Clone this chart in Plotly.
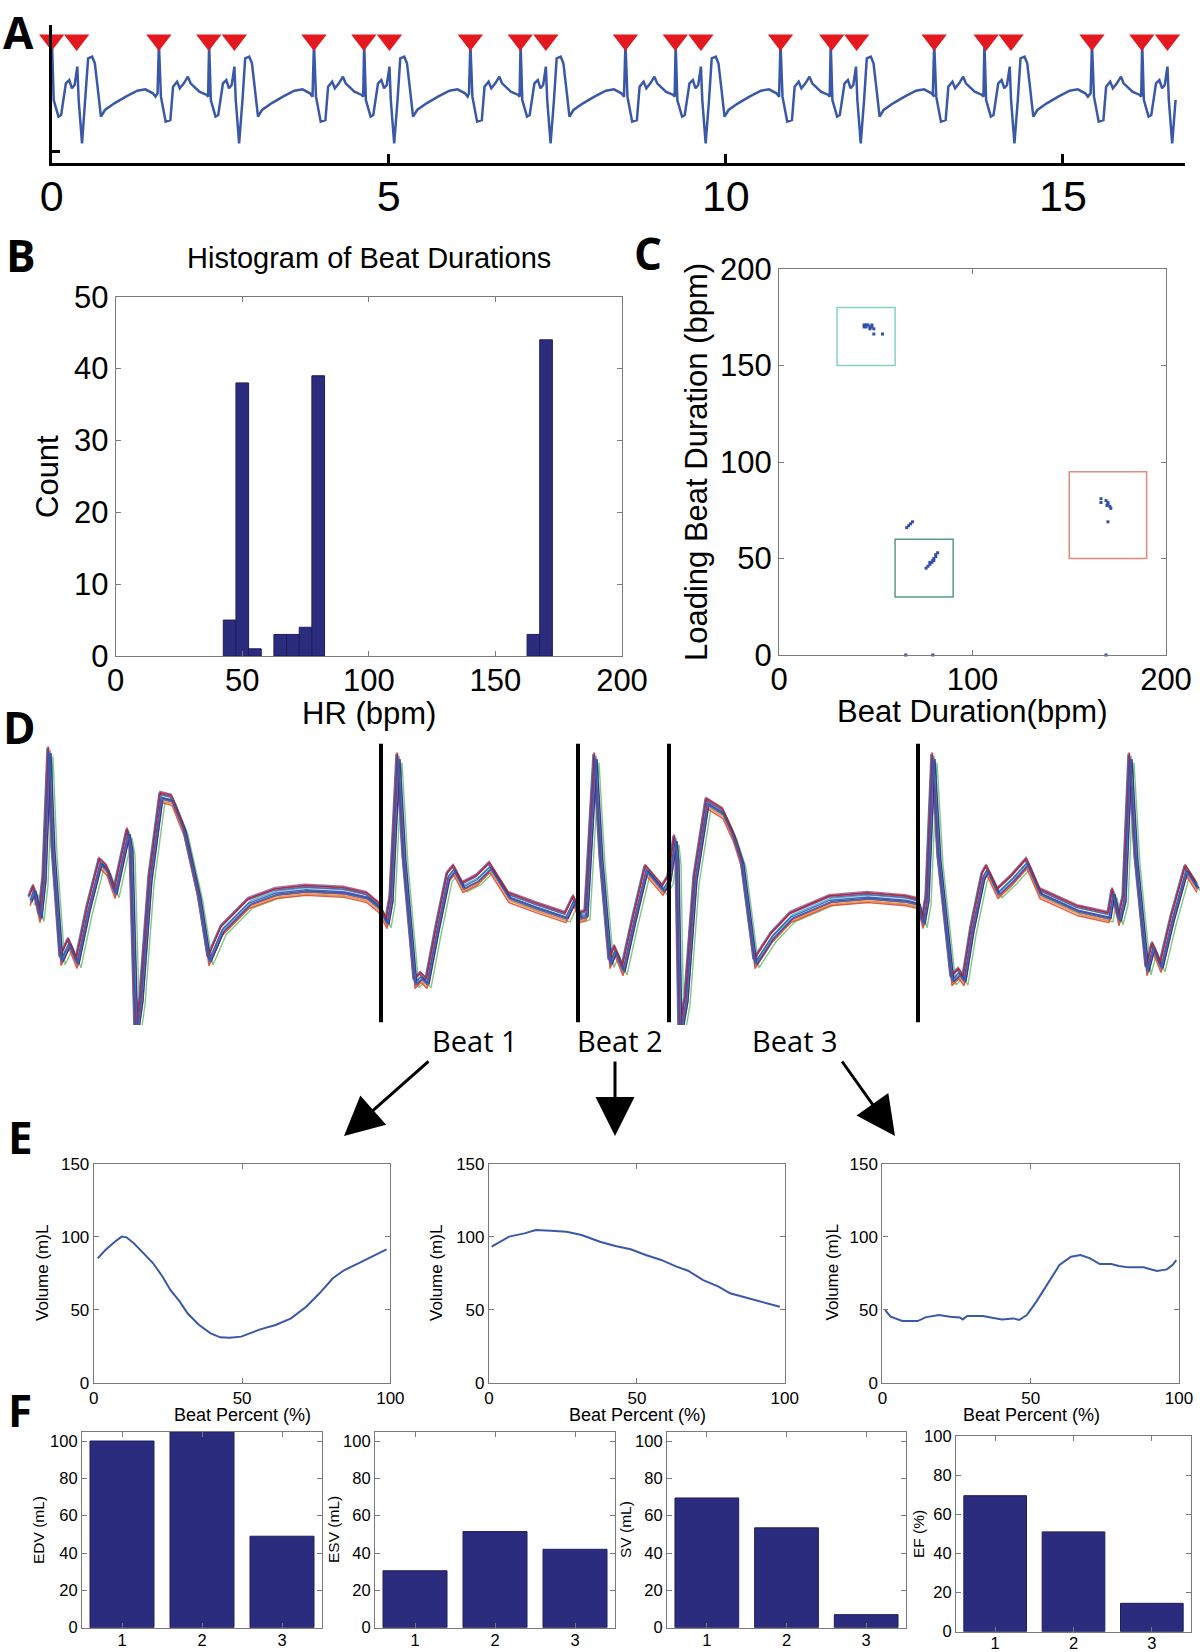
import plotly.graph_objects as go

W, H = 1200, 1652
HELV = "Liberation Sans, Arial, sans-serif"
MYRIAD = "Open Sans, Noto Sans, sans-serif"
GRAY = "#7a7a7a"
NAVY = "#2b2c7e"
ECG_BLUE = "#3a58a8"

# ---------------- A: ECG strip ----------------
# one 3-beat cycle read off the strip (time from first R peak in s, amplitude a.u.)
cycle_t = [-0.02, 0.0, 0.03, 0.10, 0.17, 0.21, 0.27, 0.31, 0.37, 0.43, 0.47, 0.60, 0.71, 0.73,
           0.745, 0.77, 0.84, 0.88, 0.95, 1.00, 1.04, 1.08, 1.12, 1.14, 1.19, 1.24, 1.28, 1.34,
           1.38, 1.42, 1.47, 1.53, 1.67, 1.84, 2.01, 2.13, 2.24, 2.28]
cycle_v = [-0.1, 1.4, -0.2, -0.95, -0.9, 0.1, 0.25, 0.05, 0.2, 0.4, 0.2, -0.05, -0.15, -0.2,
           1.4, -0.3, -0.8, -0.75, 0.2, 0.3, 0.05, 0.15, 0.7, -0.3, -1.6, -0.3, 0.95, 1.0,
           0.8, 0.1, -0.8, -0.6, -0.4, -0.2, -0.02, 0.02, -0.1, -0.2]
cycle_starts = [-0.74, 1.59, 3.89, 6.21, 8.51, 10.81, 13.09, 15.43]
strip_end = 16.68
peak_times = [0.0, 0.37, 1.59, 2.33, 2.71, 3.89, 4.63, 5.01, 6.21, 6.95, 7.33, 8.51,
              9.25, 9.63, 10.81, 11.57, 11.94, 13.09, 13.86, 14.23, 15.43, 16.17, 16.55]
marker_level = 1.5

# ---------------- B: histogram ----------------
hr_bins = [45, 50, 55, 65, 70, 75, 80, 165, 170]
hr_counts = [5, 38, 1, 3, 3, 4, 39, 3, 44]

# ---------------- C: beat vs loading beat ----------------
beat_dur = [44, 45, 46, 47, 48, 48, 49, 47, 45, 49, 53.5, 44,
            66, 67, 68, 69,
            76, 77, 78, 79, 79.5, 80, 81, 81, 82, 78, 80,
            166.4, 166.4, 169, 170, 171, 171.5, 170, 169.5, 170,
            65.5, 79.5, 169]
loading_dur = [171, 170, 171, 170, 171, 170, 169, 169, 171, 166.3, 166.3, 170,
               66, 67, 68, 69,
               45, 46, 47, 48, 49, 50, 51, 52, 53, 48, 49,
               81, 79, 80, 79, 77, 76, 78, 77.5, 69,
               0, 0, 0]
box_x0 = [30, 60, 150]
box_x1 = [60, 90, 190]
box_y0 = [150, 30, 50]
box_y1 = [180, 60, 95]
box_colors = ["#86d2cb", "#5e9c80", "#e08b7b"]

# ---------------- D: overlaid beats ----------------
d_x = [30, 34, 40, 44, 49, 53, 61, 69, 77, 88, 100, 107, 115, 122, 128, 131, 136, 141, 150, 161,
       172, 184, 193, 199, 209, 222, 249, 276, 306, 344, 367, 379, 387, 391, 398, 404, 415, 421, 427, 437,
       448, 454, 463, 477, 490, 509, 536, 566, 574, 580, 586, 595, 601, 610, 615, 623, 634, 646, 663, 669,
       675, 677, 680, 686, 695, 707, 723, 733, 742, 755, 772, 791, 830, 868, 906, 918, 923, 927, 933, 939,
       952, 959, 964, 972, 983, 987, 998, 1012, 1027, 1040, 1078, 1109, 1113, 1119, 1124, 1130, 1136, 1147, 1153, 1161,
       1172, 1186, 1197]
d_y = [-0.13, 0.13, -0.55, 0.38, 3.58, 1.13, -1.63, -1.2, -1.7, -0.38, 0.8, 0.63, 0.05, 0.88, 1.55, 1.13, -3.5, -2.63, 0.38, 2.45,
       2.38, 1.63, 0.63, -0.05, -1.63, -0.88, -0.2, 0.05, 0.13, 0.08, -0.05, -0.3, -0.7, -0.13, 3.43, 0.88, -2.2, -2.05, -2.2, -0.88,
       0.45, 0.63, 0.2, 0.38, 0.7, -0.05, -0.3, -0.55, -0.13, -0.55, -0.5, 3.43, 0.88, -1.7, -1.38, -1.88, -0.63, 0.63, 0.13, 0.38,
       1.38, 0.88, -3.5, -2.63, 0.38, 2.3, 2.05, 1.5, 0.8, -1.7, -1.05, -0.55, -0.13, -0.05, -0.13, -0.2, -0.7, -0.13, 3.43, 0.88,
       -2.13, -1.95, -2.13, -0.88, 0.45, 0.63, 0.05, 0.38, 0.8, 0.05, -0.38, -0.55, 0.05, -0.63, -0.13, 3.43, 0.88, -1.88, -1.3, -1.8,
       -0.63, 0.63, 0.2]
overlay_colors = ["#2c7fb8", "#d7301f", "#74c476", "#8c6bb1", "#41b6c4", "#fd8d3c",
                  "#e34a33", "#6a51a3", "#253494", "#cb181d", "#4a6cc0", "#3a58a8"]
overlay_dx = [-2, 1.5, 4, -1, 1, 0.5, 0, -1.5, 2, -0.5, 0.5, 0]
overlay_dy = [0.1, -0.06, -0.12, 0.14, 0.05, -0.1, -0.14, 0.07, -0.03, 0.11, -0.05, 0.0]
beat_bounds = [381, 578, 669, 918]
beat_labels = ["Beat 1", "Beat 2", "Beat 3"]

# ---------------- E: volume curves ----------------
e1_pct = [1.3, 3.9, 7.1, 9.4, 11, 13.5, 16.8, 20, 23.2, 25.8, 29, 31.6, 35.5, 39.4, 42.6, 45.8, 49.7,
          52.3, 56.1, 61.3, 66.5, 71.6, 76.1, 80.6, 84.5, 89.7, 93.5, 98.7]
e1_vol = [85.3, 91, 96.7, 100.2, 99.7, 95.6, 88.7, 81.9, 72.7, 63.6, 55.6, 47.6, 39.6, 33.8, 31.1, 30.9, 31.6,
          33.8, 36.6, 39.6, 44.1, 52.1, 61.3, 71.6, 77.3, 82.3, 86.4, 91.5]
e2_pct = [0.9, 6.8, 12, 15.8, 21, 26.2, 31.3, 37.5, 42.7, 47.9, 53, 58.2, 63.4, 67.3, 72.4, 77.6,
          81.5, 86.7, 91.8, 98.3]
e2_vol = [93.3, 100.2, 102.4, 104.7, 104.3, 103.6, 101.3, 96.7, 93.8, 91.5, 87.6, 84.2, 79.6, 76.8, 70.4, 65.9,
          61.3, 58.5, 55.6, 52.1]
e3_pct = [0.9, 2.8, 6.7, 11.9, 14.5, 19, 22.8, 26.1, 27.1, 28.6, 33.8, 37.7, 40.3, 44.2, 46.1, 48.7,
          51.9, 55.8, 59.7, 63.6, 66.8, 70, 73.3, 77.2, 79.7, 83, 88.1, 90.7, 92.6, 95.9, 97.8, 99.1]
e3_vol = [49.8, 45.3, 42.3, 42.3, 44.8, 46.4, 45.3, 44.8, 43.4, 45.7, 45.7, 44.1, 43.4, 44.1, 43, 46.4,
          55.6, 68.1, 80.7, 86.4, 87.6, 85.3, 81.4, 81.4, 80, 79.1, 79.1, 77.7, 76.6, 77.7, 80.7, 84.1]

# ---------------- F: per-beat bars ----------------
beats = [1, 2, 3]
edv = [100, 105, 49]
esv = [30.5, 51.5, 42]
sv = [69.5, 53.5, 7]
ef = [69.5, 51, 14.5]


def fx(p):
    return p / W


def fy(p):
    return 1 - p / H


fig = go.Figure()

# A
a_t, a_v = [], []
for s in cycle_starts:
    for t, v in zip(cycle_t, cycle_v):
        if 0 <= s + t <= strip_end:
            a_t.append(round(s + t, 3))
            a_v.append(v)
fig.add_trace(go.Scatter(x=a_t, y=a_v, mode="lines", line=dict(color=ECG_BLUE, width=2.5),
                         xaxis="x", yaxis="y"))
fig.add_trace(go.Scatter(x=peak_times, y=[marker_level] * len(peak_times), mode="markers",
                         marker=dict(symbol="triangle-down", size=22, color="#e4191f"),
                         cliponaxis=False, xaxis="x", yaxis="y"))

# B
fig.add_trace(go.Bar(x=hr_bins, y=hr_counts, width=5,
                     marker=dict(color=NAVY, line=dict(color="#1e1e5c", width=1)),
                     xaxis="x2", yaxis="y2"))

# C
fig.add_trace(go.Scatter(x=beat_dur, y=loading_dur, mode="markers",
                         marker=dict(size=3, color="#3050a8", symbol="square"),
                         cliponaxis=False, xaxis="x3", yaxis="y3"))
for x0, x1, y0, y1, c in zip(box_x0, box_x1, box_y0, box_y1, box_colors):
    fig.add_shape(type="rect", xref="x3", yref="y3", x0=x0, x1=x1, y0=y0, y1=y1,
                  line=dict(color=c, width=1.5))

# D
for c, dx, dy in zip(overlay_colors, overlay_dx, overlay_dy):
    fig.add_trace(go.Scatter(x=[v + dx for v in d_x], y=[v + dy for v in d_y], mode="lines",
                             line=dict(color=c, width=1.4), opacity=0.9,
                             xaxis="x4", yaxis="y4"))
for b in beat_bounds:
    fig.add_shape(type="line", xref="x4", yref="y4", x0=b, x1=b, y0=-3.18, y1=3.78,
                  line=dict(color="black", width=4))

# E
for i, (px_, vol) in enumerate([(e1_pct, e1_vol), (e2_pct, e2_vol), (e3_pct, e3_vol)]):
    n = 5 + i
    fig.add_trace(go.Scatter(x=px_, y=vol, mode="lines", line=dict(color=ECG_BLUE, width=2),
                             xaxis=f"x{n}", yaxis=f"y{n}"))

# F
for i, vals in enumerate([edv, esv, sv, ef]):
    n = 8 + i
    fig.add_trace(go.Bar(x=beats, y=vals, width=0.8,
                         marker=dict(color=NAVY, line=dict(color="#1e1e5c", width=1)),
                         xaxis=f"x{n}", yaxis=f"y{n}"))


def framed(left, right, top, bottom, xr, yr, xt, yt, fs, xstand):
    common = dict(showline=True, linecolor=GRAY, linewidth=1.2, mirror="ticks",
                  ticks="inside", ticklen=5, tickcolor=GRAY, tickwidth=1,
                  showgrid=False, zeroline=False, automargin=False,
                  tickfont=dict(family=HELV, size=fs, color="black"))
    xa = dict(common, domain=[fx(left), fx(right)], range=xr, tickvals=xt, ticklabelstandoff=xstand)
    ya = dict(common, domain=[fy(bottom), fy(top)], range=yr, tickvals=yt)
    return xa, ya


layout = dict(width=W, height=H, autosize=False,
              margin=dict(l=0, r=0, t=0, b=0, pad=0, autoexpand=False),
              paper_bgcolor="white", plot_bgcolor="white", showlegend=False)

# A axes
layout["xaxis"] = dict(domain=[fx(51.7), fx(1185)], range=[0, 16.81], anchor="y",
                       showline=True, linecolor="black", linewidth=3, ticks="inside",
                       ticklen=9, tickwidth=2.5, tickcolor="black", tickvals=[0, 5, 10, 15],
                       showgrid=False, zeroline=False, automargin=False, ticklabelstandoff=-7,
                       tickfont=dict(family=HELV, size=43, color="black"))
layout["yaxis"] = dict(domain=[fy(163.3), fy(25)], range=[-2.2, 1.95], anchor="x",
                       showline=True, linecolor="black", linewidth=3, ticks="inside",
                       ticklen=8, tickwidth=2.5, tickcolor="black", tickvals=[-1.86],
                       showticklabels=False, showgrid=False, zeroline=False, automargin=False)

specs = {
    2: (115.7, 622, 296.7, 656, [0, 200], [0, 50], [0, 50, 100, 150, 200], [0, 10, 20, 30, 40, 50], 31, -3),
    3: (779, 1166, 269, 655, [0, 200], [0, 200], [0, 100, 200], [0, 50, 100, 150, 200], 31, -3),
    5: (93.8, 390.4, 1164, 1382.7, [0, 100], [0, 150], [0, 50, 100], [0, 50, 100, 150], 17, 0),
    6: (489, 784.8, 1164, 1382.7, [0, 100], [0, 150], [0, 50, 100], [0, 50, 100, 150], 17, 0),
    7: (882.4, 1179, 1164, 1382.7, [0, 100], [0, 150], [0, 50, 100], [0, 50, 100, 150], 17, 0),
    8: (82, 322, 1431.7, 1627.7, [0.5, 3.5], [0, 105], beats, [0, 20, 40, 60, 80, 100], 16.5, -3),
    9: (375, 615, 1431.7, 1627.7, [0.5, 3.5], [0, 105], beats, [0, 20, 40, 60, 80, 100], 16.5, -3),
    10: (667, 906, 1431.7, 1627.7, [0.5, 3.5], [0, 105], beats, [0, 20, 40, 60, 80, 100], 16.5, -3),
    11: (956, 1191, 1436, 1631.7, [0.5, 3.5], [0, 100], beats, [0, 20, 40, 60, 80, 100], 16.5, -4),
}
for n, sp in specs.items():
    xa, ya = framed(*sp)
    xa["anchor"] = f"y{n}"
    ya["anchor"] = f"x{n}"
    layout[f"xaxis{n}"] = xa
    layout[f"yaxis{n}"] = ya

# D axes (hidden)
layout["xaxis4"] = dict(domain=[0, 1], range=[0, 1200], visible=False, anchor="y4", automargin=False)
layout["yaxis4"] = dict(domain=[fy(1025), fy(740)], range=[-3.25, 3.875], visible=False, anchor="x4",
                        automargin=False)

fig.update_layout(**layout)

ann = []


def text(x, y, s, size, family=HELV, angle=0, bold=False, yanchor="middle"):
    ann.append(dict(x=fx(x), y=fy(y), xref="paper", yref="paper", text=f"<b>{s}</b>" if bold else s,
                    showarrow=False, textangle=angle, xanchor="center", yanchor=yanchor,
                    font=dict(family=family, size=size, color="black")))


# panel letters
text(18, 0, "A", 44, family=MYRIAD, bold=True, yanchor="top")
for letter, (x, y) in {"B": (21, 255), "C": (648, 253), "D": (19, 727),
                       "E": (20, 1137), "F": (20, 1410)}.items():
    text(x, y, letter, 44, family=MYRIAD, bold=True)

text(369, 258, "Histogram of Beat Durations", 29)
text(48, 477, "Count", 31, angle=-90)
text(369, 713, "HR (bpm)", 31)
text(697, 462, "Loading Beat Duration (bpm)", 31, angle=-90)
text(972, 711, "Beat Duration(bpm)", 31)

for x in [42, 436, 831.5]:
    text(x, 1273, "Volume (m)L", 17, angle=-90)
for x in [242, 637, 1031]:
    text(x, 1415, "Beat Percent (%)", 18)
for x, y, s in [(38, 1530, "EDV (mL)"), (333, 1530, "ESV (mL)"), (625, 1530, "SV (mL)"), (918, 1534, "EF (%)")]:
    text(x, y, s, 15.5, angle=-90)

for x, s in zip([475, 620, 795], beat_labels):
    text(x, 1040, s, 29, family=MYRIAD)

# arrows from beat labels to volume panels
for tip_x, dx in [(344, 86), (615, 0), (895, -54)]:
    ann.append(dict(x=fx(tip_x), y=fy(1136), xref="paper", yref="paper", ax=dx, ay=-76,
                    axref="pixel", ayref="pixel", showarrow=True, text="",
                    arrowhead=2, arrowsize=2.6, arrowwidth=3, arrowcolor="black"))

fig.update_layout(annotations=ann)

fig.write_html("out.html", config={"displayModeBar": False},
               post_script="document.body.style.margin='0px';"
                           "document.body.style.overflow='hidden';")
